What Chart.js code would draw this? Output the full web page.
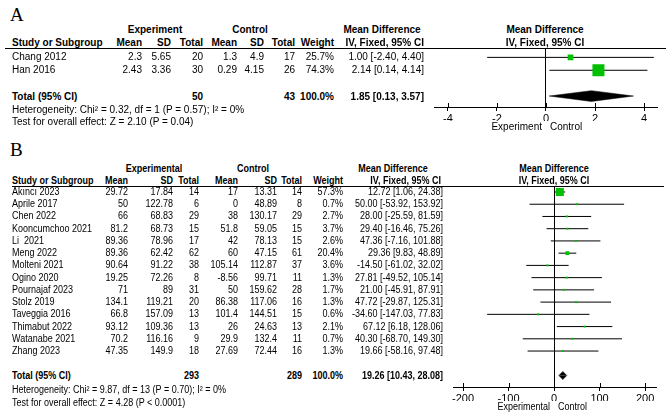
<!DOCTYPE html>
<html><head><meta charset="utf-8">
<script src="https://cdn.jsdelivr.net/npm/chart.js@4.4.1/dist/chart.umd.min.js"></script>
<style>
html,body{margin:0;padding:0;background:#fff;}
#wrap{position:relative;width:669px;height:415px;overflow:hidden;background:#fff;font-family:"Liberation Sans",Arial,sans-serif;color:#000;}
.t{position:absolute;white-space:pre;font-size:10px;line-height:12px;transform-origin:0 0;}
.b{font-weight:bold;}
.lbl{position:absolute;font-family:"Liberation Serif","Times New Roman",serif;font-size:19px;line-height:20px;}
canvas{position:absolute;}
.rule{position:absolute;height:0;border-top:1px solid #000;}
</style></head><body><div id="wrap">
<canvas id="cA" width="249" height="95" style="left:420px;top:40px"></canvas>
<canvas id="cB" width="249" height="239" style="left:420px;top:176px"></canvas>
</div>
<script>
// ---------- Panel A data ----------
const studiesA = ['Chang 2012', 'Han 2016'];
const expMeanA = [2.3, 2.43];
const expSdA   = [5.65, 3.36];
const expNA    = [20, 30];
const ctlMeanA = [1.3, 0.29];
const ctlSdA   = [4.9, 4.15];
const ctlNA    = [17, 26];
const weightA  = [25.7, 74.3];
const mdA      = [1.00, 2.14];
const loA      = [-2.40, 0.14];
const hiA      = [4.40, 4.14];
const totalNA  = [50, 43];
const totalMdA = [1.85, 0.13, 3.57];
const ticksA   = [-4, -2, 0, 2, 4];
const hetA     = 'Heterogeneity: Chi\u00b2 = 0.32, df = 1 (P = 0.57); I\u00b2 = 0%';
const testA    = 'Test for overall effect: Z = 2.10 (P = 0.04)';

// ---------- Panel B data ----------
const studiesB = ['Ak\u0131nc\u0131 2023','Aprile 2017','Chen 2022','Kooncumchoo 2021','Li  2021','Meng 2022','Molteni 2021','Ogino 2020','Pournajaf 2023','Stolz 2019','Taveggia 2016','Thimabut 2022','Watanabe 2021','Zhang 2023'];
const expMeanB = [29.72, 50, 66, 81.2, 89.36, 89.36, 90.64, 19.25, 71, 134.1, 66.8, 93.12, 70.2, 47.35];
const expSdB   = [17.84, 122.78, 68.83, 68.73, 78.96, 62.42, 91.22, 72.26, 89, 119.21, 157.09, 109.36, 116.16, 149.9];
const expNB    = [14, 6, 29, 15, 17, 62, 38, 8, 31, 20, 13, 13, 9, 18];
const ctlMeanB = [17, 0, 38, 51.8, 42, 60, 105.14, -8.56, 50, 86.38, 101.4, 26, 29.9, 27.69];
const ctlSdB   = [13.31, 48.89, 130.17, 59.05, 78.13, 47.15, 112.87, 99.71, 159.62, 117.06, 144.51, 24.63, 132.4, 72.44];
const ctlNB    = [14, 8, 29, 15, 15, 61, 37, 11, 28, 16, 15, 13, 11, 16];
const weightB  = [57.3, 0.7, 2.7, 3.7, 2.6, 20.4, 3.6, 1.3, 1.7, 1.3, 0.6, 2.1, 0.7, 1.3];
const mdB      = [12.72, 50.00, 28.00, 29.40, 47.36, 29.36, -14.50, 27.81, 21.00, 47.72, -34.60, 67.12, 40.30, 19.66];
const loB      = [1.06, -53.92, -25.59, -16.46, -7.16, 9.83, -61.02, -49.52, -45.91, -29.87, -147.03, 6.18, -68.70, -58.16];
const hiB      = [24.38, 153.92, 81.59, 75.26, 101.88, 48.89, 32.02, 105.14, 87.91, 125.31, 77.83, 128.06, 149.30, 97.48];
const totalNB  = [293, 289];
const totalMdB = [19.26, 10.43, 28.08];
const ticksB   = [-200, -100, 0, 100, 200];
const hetB     = 'Heterogeneity: Chi\u00b2 = 9.87, df = 13 (P = 0.70); I\u00b2 = 0%';
const testB    = 'Test for overall effect: Z = 4.28 (P < 0.0001)';

// ---------- text helpers ----------
const wrap = document.getElementById('wrap');
function T(x, y, s, align, bold, sx) {
  const d = document.createElement('div');
  d.className = 't' + (bold ? ' b' : '');
  d.textContent = s;
  d.style.left = x + 'px';
  d.style.top = (y - 6) + 'px';
  const tr = align === 'right' ? ' translateX(-100%)' : align === 'center' ? ' translateX(-50%)' : '';
  d.style.transform = 'scaleX(' + (sx || 1) + ')' + tr;
  wrap.appendChild(d);
}
function rule(x1, x2, y) {
  const d = document.createElement('div');
  d.className = 'rule';
  d.style.left = x1 + 'px'; d.style.width = (x2 - x1) + 'px'; d.style.top = y + 'px';
  wrap.appendChild(d);
}
function label(x, y, s) {
  const d = document.createElement('div');
  d.className = 'lbl'; d.textContent = s;
  d.style.left = x + 'px'; d.style.top = (y - 10) + 'px';
  wrap.appendChild(d);
}
const f2 = v => v.toFixed(2);
const ci = (m, l, h) => f2(m) + ' [' + f2(l) + ', ' + f2(h) + ']';

function table(L) {
  const c = L.cols, k = L.sx;
  T(c.grpE, L.yH1, L.expName, 'center', true, k);
  T(c.grpC, L.yH1, 'Control', 'center', true, k);
  T(c.grpMD, L.yH1, 'Mean Difference', 'center', true, k);
  T(c.plot, L.yH1, 'Mean Difference', 'center', true, k);
  T(12, L.yH2, 'Study or Subgroup', 'left', true, k);
  T(c.eM, L.yH2, 'Mean', 'right', true, k);
  T(c.eS, L.yH2, 'SD', 'right', true, k);
  T(c.eN, L.yH2, 'Total', 'right', true, k);
  T(c.cM, L.yH2, 'Mean', 'right', true, k);
  T(c.cS, L.yH2, 'SD', 'right', true, k);
  T(c.cN, L.yH2, 'Total', 'right', true, k);
  T(c.w, L.yH2, 'Weight', 'right', true, k);
  T(c.mdH, L.yH2, 'IV, Fixed, 95% CI', 'right', true, k);
  T(c.plot, L.yH2, 'IV, Fixed, 95% CI', 'center', true, k);
  rule(L.ruleX1, L.ruleX2, L.ruleY);
  L.studies.forEach((s, i) => {
    const y = L.y0 + i * L.dy;
    T(12, y, s, 'left', false, k);
    T(c.eM, y, String(L.eM[i]), 'right', false, k);
    T(c.eS, y, String(L.eS[i]), 'right', false, k);
    T(c.eN, y, String(L.eN[i]), 'right', false, k);
    T(c.cM, y, String(L.cM[i]), 'right', false, k);
    T(c.cS, y, String(L.cS[i]), 'right', false, k);
    T(c.cN, y, String(L.cN[i]), 'right', false, k);
    T(c.w, y, L.w[i].toFixed(1) + '%', 'right', false, k);
    T(c.md, y, ci(L.md[i], L.lo[i], L.hi[i]), 'right', false, k);
  });
  T(12, L.yTot, 'Total (95% CI)', 'left', true, k);
  T(c.eN, L.yTot, String(L.totN[0]), 'right', true, k);
  T(c.cN, L.yTot, String(L.totN[1]), 'right', true, k);
  T(c.w, L.yTot, '100.0%', 'right', true, k);
  T(c.md, L.yTot, ci(L.totMd[0], L.totMd[1], L.totMd[2]), 'right', true, k);
  T(12, L.yHet, L.het, 'left', false, k);
  T(12, L.yTest, L.test, 'left', false, k);
  T(L.zeroX - 4, L.yFav, L.favL, 'right', false, k);
  T(L.zeroX + 4, L.yFav, 'Control', 'left', false, k);
}

label(10, 15, 'A');
table({
  expName: 'Experiment', studies: studiesA, eM: expMeanA, eS: expSdA, eN: expNA,
  cM: ctlMeanA, cS: ctlSdA, cN: ctlNA, w: weightA, md: mdA, lo: loA, hi: hiA,
  totN: totalNA, totMd: totalMdA, het: hetA, test: testA, favL: 'Experiment', sx: 1,
  cols: {grpE: 155, grpC: 250, grpMD: 382, plot: 545, eM: 142, eS: 171, eN: 203, cM: 237, cS: 264, cN: 295, w: 334, mdH: 424, md: 424},
  yH1: 30, yH2: 43, ruleX1: 5, ruleX2: 666, ruleY: 48, y0: 57, dy: 13, yTot: 97, yHet: 110, yTest: 122,
  zeroX: 546, yFav: 127
});
label(10, 150, 'B');
table({
  expName: 'Experimental', studies: studiesB, eM: expMeanB, eS: expSdB, eN: expNB,
  cM: ctlMeanB, cS: ctlSdB, cN: ctlNB, w: weightB, md: mdB, lo: loB, hi: hiB,
  totN: totalNB, totMd: totalMdB, het: hetB, test: testB, favL: 'Experimental', sx: 0.9,
  cols: {grpE: 154, grpC: 253, grpMD: 393, plot: 554, eM: 128, eS: 173, eN: 199, cM: 238, cS: 277, cN: 302, w: 343, mdH: 441, md: 443},
  yH1: 169, yH2: 181, ruleX1: 12, ruleX2: 664, ruleY: 186, y0: 192, dy: 12.23, yTot: 376, yHet: 390, yTest: 403,
  zeroX: 554, yFav: 407
});

// ---------- charts ----------
const GREEN = '#00c000';
const tickCross = {
  id: 'tickCross',
  afterDraw(chart) {
    const s = chart.scales.x, ctx = chart.ctx;
    ctx.save(); ctx.strokeStyle = '#000'; ctx.lineWidth = 1;
    s.ticks.forEach(t => {
      const px = Math.round(s.getPixelForValue(t.value)) + 0.5;
      ctx.beginPath(); ctx.moveTo(px, s.top - 4); ctx.lineTo(px, s.top); ctx.stroke();
    });
    ctx.restore();
  }
};

function forest(id, P) {
  const wMax = Math.max(...P.w);
  const sides = P.w.map(w => Math.max(2, P.maxSide * Math.pow(w / wMax, 0.7)));
  const totRow = P.md.length + 1;
  const ds = [];
  ds.push({
    data: P.md.map((m, i) => ({x: m, y: i})), showLine: false,
    pointStyle: 'rect', pointRadius: sides.map(s => s / (2 * Math.SQRT1_2)),
    pointBackgroundColor: GREEN, pointBorderWidth: 0, pointBorderColor: GREEN, order: 0
  });
  P.md.forEach((m, i) => ds.push({
    data: [{x: P.lo[i], y: i}, {x: P.hi[i], y: i}], borderColor: '#000', borderWidth: 1,
    pointRadius: 0, fill: false, order: 1
  }));
  const [tm, tl, th] = P.tot;
  [-P.dh, P.dh].forEach(h => ds.push({
    data: [{x: tl, y: totRow}, {x: tm, y: totRow + h}, {x: th, y: totRow}],
    borderColor: '#000', borderWidth: 0.5, backgroundColor: '#000', pointRadius: 0,
    fill: {value: totRow}, tension: 0, order: 0
  }));
  new Chart(document.getElementById(id), {
    type: 'line',
    data: {datasets: ds},
    plugins: [tickCross],
    options: {
      responsive: false, animation: false, devicePixelRatio: 1,
      layout: {padding: P.pad},
      plugins: {legend: {display: false}, tooltip: {enabled: false}},
      scales: {
        x: {
          type: 'linear', min: P.xMin, max: P.xMax,
          afterBuildTicks: s => { s.ticks = P.ticks.map(v => ({value: v})); },
          afterFit: s => { s.height = 14; },
          grid: {color: c => (c.tick && c.tick.value === 0) ? '#000' : 'rgba(0,0,0,0)', tickColor: '#000', tickLength: 4, lineWidth: 1},
          border: {display: true, color: '#000', width: 1},
          ticks: {color: '#000', font: {family: 'Liberation Sans', size: 11}, padding: 1, maxRotation: 0, autoSkip: false}
        },
        y: {type: 'linear', display: false, reverse: true, min: P.yMin, max: P.yMax}
      }
    }
  });
}

forest('cA', {w: weightA, md: mdA, lo: loA, hi: hiA, tot: totalMdA, ticks: ticksA,
  xMin: -4.57, xMax: 4.53, yMin: -0.69, yMax: 3.85, maxSide: 12, dh: 0.42,
  pad: {left: 14, right: 12, top: 8, bottom: 14}});
forest('cB', {w: weightB, md: mdB, lo: loB, hi: hiB, tot: totalMdB, ticks: ticksB,
  xMin: -222, xMax: 224, yMin: -0.49, yMax: 15.94, maxSide: 8, dh: 0.33,
  pad: {left: 33, right: 13, top: 10, bottom: 14}});
</script>
</body></html>
